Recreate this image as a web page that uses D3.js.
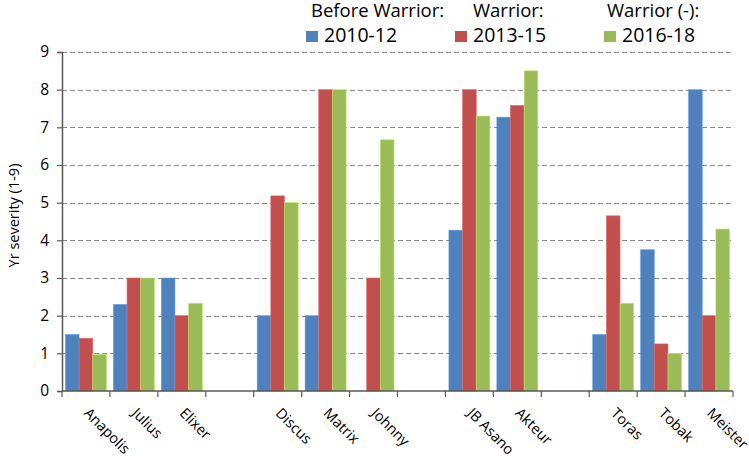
<!DOCTYPE html>
<html>
<head>
<meta charset="utf-8">
<script src="https://cdn.jsdelivr.net/npm/d3@7/dist/d3.min.js"></script>
<style>
  body { margin: 0; background: #fff; }
  text { font-family: "Open Sans", "Noto Sans", sans-serif; fill: #000; }
</style>
</head>
<body>
<div id="chart"></div>
<script>
// categories, "" = gap between groups
var categories = ["Anapolis", "Julius", "Elixer", "", "Discus", "Matrix", "Johnny", "", "JB Asano", "Akteur", "", "Toras", "Tobak", "Meister"]
var seriesNames = ["2010-12", "2013-15", "2016-18"]
var seriesTitles = ["Before Warrior:", "Warrior:", "Warrior (-):"]
var v2010 = [1.5, 2.3, 3, null, 2, 2, null, null, 4.27, 7.27, null, 1.5, 3.75, 8]
var v2013 = [1.4, 3, 2, null, 5.18, 8, 3, null, 8, 7.58, null, 4.65, 1.25, 2]
var v2016 = [0.97, 3, 2.33, null, 5, 8, 6.67, null, 7.3, 8.5, null, 2.33, 1, 4.3]
var yTicks = [0, 1, 2, 3, 4, 5, 6, 7, 8, 9]
var colors = ["#4F81BD", "#C0504D", "#9BBB59"]

var W = 749, H = 456
var m = { left: 62, right: 16, top: 52, bottom: 65 }

var svg = d3.select('#chart').append('svg')
  .attr('width', W)
  .attr('height', H)

var x = d3.scaleBand()
  .domain(d3.range(categories.length))
  .range([m.left, W - m.right])
  .paddingInner(0.145)
  .paddingOuter(0.072)

var slot = d3.scaleBand()
  .domain(d3.range(categories.length))
  .range([m.left, W - m.right])

var y = d3.scaleLinear()
  .domain([0, 9])
  .range([H - m.bottom, m.top])

var xs = d3.scaleBand()
  .domain([0, 1, 2])
  .range([0, x.bandwidth()])

// gridlines
svg.append('g')
  .selectAll('line')
  .data(yTicks.slice(1))
  .enter().append('line')
  .attr('x1', m.left)
  .attr('x2', W - m.right)
  .attr('y1', function(d) { return Math.round(y(d)) + 0.5 })
  .attr('y2', function(d) { return Math.round(y(d)) + 0.5 })
  .attr('stroke', '#8c8c8c')
  .attr('stroke-width', 1.2)
  .attr('stroke-dasharray', '5,3')

// bars
var allSeries = [v2010, v2013, v2016]
allSeries.forEach(function(vals, si) {
  svg.append('g')
    .selectAll('rect')
    .data(vals.map(function(v, i) { return { i: i, v: v } }).filter(function(d) { return d.v != null }))
    .enter().append('rect')
    .attr('x', function(d) { return x(d.i) + xs(si) })
    .attr('width', xs.bandwidth())
    .attr('y', function(d) { return y(d.v) })
    .attr('height', function(d) { return y(0) - y(d.v) })
    .attr('fill', colors[si])
    .attr('stroke', d3.color(colors[si]).brighter(0.6))
    .attr('stroke-width', 0.6)
})

// y axis
var yAxis = svg.append('g')
  .attr('transform', 'translate(' + m.left + ',0)')
  .call(d3.axisLeft(y).tickValues(yTicks).tickSize(5).tickPadding(8).tickFormat(d3.format('d')))
yAxis.select('.domain').attr('stroke', '#595959').attr('stroke-width', 1.5)
yAxis.selectAll('.tick line').attr('stroke', '#595959').attr('stroke-width', 1.2)
yAxis.selectAll('text').style('font-size', '15.5px').attr('fill', '#000')

// x axis with ticks between categories
var xAxis = svg.append('g')
  .attr('transform', 'translate(0,' + y(0) + ')')
xAxis.append('line')
  .attr('x1', m.left).attr('x2', W - m.right)
  .attr('stroke', '#595959').attr('stroke-width', 1.5)
xAxis.selectAll('line.tk')
  .data(d3.range(categories.length + 1))
  .enter().append('line')
  .attr('class', 'tk')
  .attr('x1', function(i) { return m.left + i * slot.step() })
  .attr('x2', function(i) { return m.left + i * slot.step() })
  .attr('y1', 0).attr('y2', 6)
  .attr('stroke', '#595959').attr('stroke-width', 1.2)
xAxis.selectAll('text')
  .data(categories.map(function(c, i) { return { c: c, i: i } }).filter(function(d) { return d.c !== '' }))
  .enter().append('text')
  .attr('transform', function(d) {
    return 'translate(' + (slot(d.i) + slot.bandwidth() / 2 - 3) + ',23) rotate(45)'
  })
  .style('font-size', '14.5px')
  .text(function(d) { return d.c })

// y title
svg.append('text')
  .attr('transform', 'translate(19,' + ((m.top + H - m.bottom) / 2 - 6) + ') rotate(-90)')
  .attr('text-anchor', 'middle')
  .style('font-size', '14.5px')
  .text('Yr severity (1-9)')

// legend
var legX = [306, 455, 604]
var titleX = [311, 473, 607]
var legend = svg.append('g')
seriesNames.forEach(function(name, i) {
  legend.append('text')
    .attr('x', titleX[i]).attr('y', 17)
    .style('font-size', '18.5px')
    .text(seriesTitles[i])
  legend.append('rect')
    .attr('x', legX[i]).attr('y', 31)
    .attr('width', 12).attr('height', 11)
    .attr('fill', colors[i])
  legend.append('text')
    .attr('x', legX[i] + 18).attr('y', 42)
    .style('font-size', '19.5px')
    .text(name)
})
</script>
</body>
</html>
